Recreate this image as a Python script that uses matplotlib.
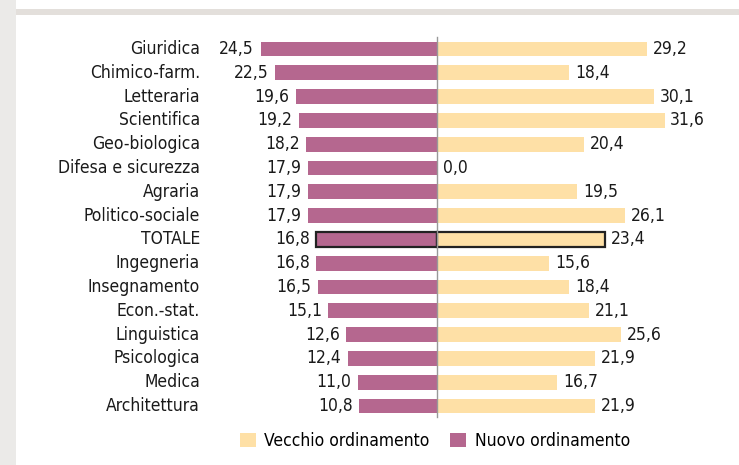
import matplotlib

matplotlib.use("Agg")
import matplotlib.patches as mpatches
import matplotlib.pyplot as plt
from matplotlib import font_manager

plt.rcParams["font.family"] = ["DejaVu Sans"]
plt.rcParams["font.stretch"] = "condensed"

CATEGORIES = [
    "Giuridica", "Chimico-farm.", "Letteraria", "Scientifica", "Geo-biologica",
    "Difesa e sicurezza", "Agraria", "Politico-sociale", "TOTALE", "Ingegneria",
    "Insegnamento", "Econ.-stat.", "Linguistica", "Psicologica", "Medica",
    "Architettura",
]
NUOVO = [24.5, 22.5, 19.6, 19.2, 18.2, 17.9, 17.9, 17.9, 16.8, 16.8,
         16.5, 15.1, 12.6, 12.4, 11.0, 10.8]
VECCHIO = [29.2, 18.4, 30.1, 31.6, 20.4, 0.0, 19.5, 26.1, 23.4, 15.6,
           18.4, 21.1, 25.6, 21.9, 16.7, 21.9]

PURPLE = "#b5678f"
YELLOW = "#fee0a6"
FS = 12.5

W, H = 739, 465
PX = 7.2        # pixels per unit
X0 = 437        # centre line in pixels
ROW0, ROW = 49, 23.8


def fmt(v):
    return f"{v:.1f}".replace(".", ",")


print(font_manager.findfont(font_manager.FontProperties(family="DejaVu Sans", stretch="condensed")))

fig = plt.figure(figsize=(W / 100, H / 100), dpi=100)
fig.patch.set_facecolor("white")

# decorative page strips
fig.add_artist(mpatches.Rectangle((0, 0), 16 / W, 1, transform=fig.transFigure,
                                  facecolor="#ebeae8", edgecolor="none"))
fig.add_artist(mpatches.Rectangle((16 / W, 1 - 15 / H), 1, 6 / H,
                                  transform=fig.transFigure,
                                  facecolor="#e3dfdb", edgecolor="none"))

ax = fig.add_axes([0, 0, 1, 1])
ax.set_xlim(-X0 / PX, (W - X0) / PX)
ax.set_ylim((H - ROW0) / ROW, -ROW0 / ROW)
ax.axis("off")

for i, cat in enumerate(CATEGORIES):
    edge = "#222222" if cat == "TOTALE" else "none"
    lw = 1.6 if cat == "TOTALE" else 0
    ax.barh(i, -NUOVO[i], height=0.63, color=PURPLE, edgecolor=edge, linewidth=lw, zorder=2)
    ax.barh(i, VECCHIO[i], height=0.63, color=YELLOW, edgecolor=edge, linewidth=lw, zorder=2)
    ax.text((200 - X0) / PX, i, cat, ha="right", va="center",
            fontsize=FS, color="#1a1a1a")
    ax.text(-NUOVO[i] - 0.9, i, fmt(NUOVO[i]), ha="right", va="center",
            fontsize=FS, color="#1a1a1a")
    ax.text(VECCHIO[i] + 0.8, i, fmt(VECCHIO[i]), ha="left", va="center",
            fontsize=FS, color="#1a1a1a")

ax.plot([0, 0], [-0.5, len(CATEGORIES) - 0.55], color="#999999", lw=1.0, zorder=3)

handles = [
    mpatches.Patch(facecolor=YELLOW, edgecolor="none", label="Vecchio ordinamento"),
    mpatches.Patch(facecolor=PURPLE, edgecolor="none", label="Nuovo ordinamento"),
]
fig.legend(handles=handles, loc="center", bbox_to_anchor=(435 / W, 1 - 441 / H),
           ncol=2, frameon=False, fontsize=FS, handlelength=0.9, handleheight=0.9,
           handletextpad=0.5, columnspacing=1.2)

fig.savefig("out.png", dpi=100, facecolor="white")
